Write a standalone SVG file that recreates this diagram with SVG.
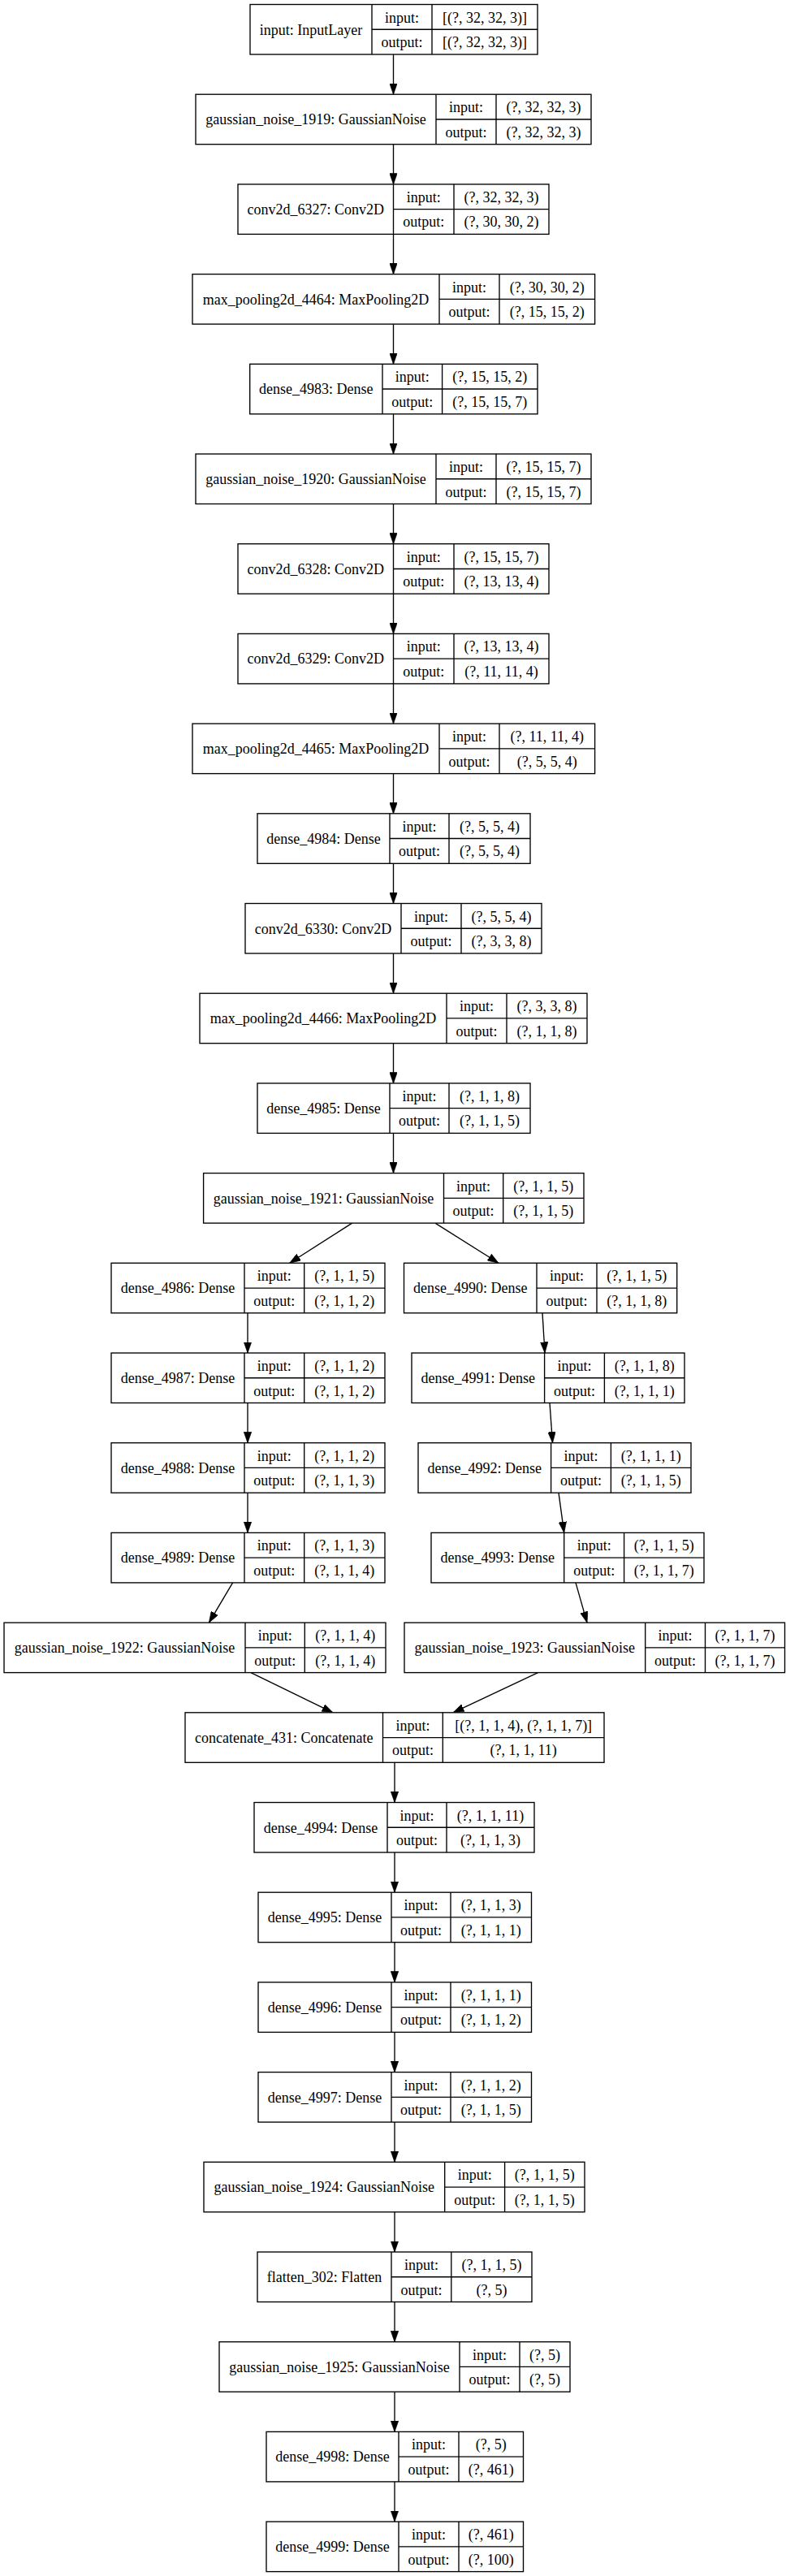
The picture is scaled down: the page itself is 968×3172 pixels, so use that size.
<svg xmlns="http://www.w3.org/2000/svg" width="968" height="3172" viewBox="0 0 968 3172">
<defs>
<style>
.n rect{fill:#fff;stroke:#000;stroke-width:1.35}
.n path{fill:none;stroke:#000;stroke-width:1.35}
text{font-family:"Liberation Serif","Times New Roman",serif;font-size:18px;fill:#000;text-anchor:middle}
#edges line{stroke:#000;stroke-width:1.35;marker-end:url(#arr)}
</style>
<marker id="arr" viewBox="0 0 10 7" refX="10" refY="3.5" markerWidth="13.5" markerHeight="9.5" markerUnits="userSpaceOnUse" orient="auto">
<path d="M0,0L10,3.5L0,7z" fill="#000" stroke="#000" stroke-width="0.5"/>
</marker>
</defs>
<rect width="968" height="3172" fill="#fff"/>
<g id="edges">
<line x1="484.5" y1="67" x2="484.5" y2="116.2"/>
<line x1="484.5" y1="177.7" x2="484.5" y2="226.9"/>
<line x1="484.5" y1="288.4" x2="484.5" y2="337.6"/>
<line x1="484.5" y1="399.1" x2="484.5" y2="448.3"/>
<line x1="484.5" y1="509.8" x2="484.5" y2="559"/>
<line x1="484.5" y1="620.5" x2="484.5" y2="669.7"/>
<line x1="484.5" y1="731.2" x2="484.5" y2="780.4"/>
<line x1="484.5" y1="841.9" x2="484.5" y2="891.1"/>
<line x1="484.5" y1="952.6" x2="484.5" y2="1001.8"/>
<line x1="484.5" y1="1063.3" x2="484.5" y2="1112.5"/>
<line x1="484.5" y1="1174" x2="484.5" y2="1223.2"/>
<line x1="484.5" y1="1284.7" x2="484.5" y2="1333.9"/>
<line x1="484.5" y1="1395.4" x2="484.5" y2="1444.6"/>
<line x1="433.6" y1="1506.1" x2="356.7" y2="1555.3"/>
<line x1="536" y1="1506.1" x2="614" y2="1555.3"/>
<line x1="305" y1="1616.8" x2="305" y2="1666"/>
<line x1="305" y1="1727.5" x2="305" y2="1776.7"/>
<line x1="305" y1="1838.2" x2="305" y2="1887.4"/>
<line x1="286.6" y1="1948.9" x2="257.4" y2="1998.1"/>
<line x1="668" y1="1616.8" x2="671" y2="1666"/>
<line x1="677" y1="1727.5" x2="680.5" y2="1776.7"/>
<line x1="688" y1="1838.2" x2="694.7" y2="1887.4"/>
<line x1="709" y1="1948.9" x2="723" y2="1998.1"/>
<line x1="309" y1="2059.6" x2="410" y2="2108.8"/>
<line x1="662.5" y1="2059.6" x2="558" y2="2108.8"/>
<line x1="486" y1="2170.3" x2="486" y2="2219.5"/>
<line x1="486" y1="2281" x2="486" y2="2330.2"/>
<line x1="486" y1="2391.7" x2="486" y2="2440.9"/>
<line x1="486" y1="2502.4" x2="486" y2="2551.6"/>
<line x1="486" y1="2613.1" x2="486" y2="2662.3"/>
<line x1="486" y1="2723.8" x2="486" y2="2773"/>
<line x1="486" y1="2834.5" x2="486" y2="2883.7"/>
<line x1="486" y1="2945.2" x2="486" y2="2994.4"/>
<line x1="486" y1="3055.9" x2="486" y2="3105.1"/>
</g>

<g id="input" class="n" transform="translate(0,5.5)">
<rect x="308" y="0" width="354" height="61.5"/><path d="M458,0V61.5M532,0V61.5M458,30.75H662"/>
<text x="383" y="37">input: InputLayer</text><text x="495" y="22">input:</text><text x="495" y="52.6">output:</text>
<text x="597" y="22">[(?, 32, 32, 3)]</text><text x="597" y="52.6">[(?, 32, 32, 3)]</text>
</g>
<g id="gaussian_noise_1919" class="n" transform="translate(0,116.2)">
<rect x="241" y="0" width="487" height="61.5"/><path d="M537,0V61.5M611,0V61.5M537,30.75H728"/>
<text x="389" y="37">gaussian_noise_1919: GaussianNoise</text><text x="574" y="22">input:</text><text x="574" y="52.6">output:</text>
<text x="669.5" y="22">(?, 32, 32, 3)</text><text x="669.5" y="52.6">(?, 32, 32, 3)</text>
</g>
<g id="conv2d_6327" class="n" transform="translate(0,226.9)">
<rect x="293" y="0" width="383" height="61.5"/><path d="M484.5,0V61.5M559,0V61.5M484.5,30.75H676"/>
<text x="388.75" y="37">conv2d_6327: Conv2D</text><text x="521.75" y="22">input:</text><text x="521.75" y="52.6">output:</text>
<text x="617.5" y="22">(?, 32, 32, 3)</text><text x="617.5" y="52.6">(?, 30, 30, 2)</text>
</g>
<g id="max_pooling2d_4464" class="n" transform="translate(0,337.6)">
<rect x="237" y="0" width="495.6" height="61.5"/><path d="M541,0V61.5M615,0V61.5M541,30.75H732.6"/>
<text x="389" y="37">max_pooling2d_4464: MaxPooling2D</text><text x="578" y="22">input:</text><text x="578" y="52.6">output:</text>
<text x="673.8" y="22">(?, 30, 30, 2)</text><text x="673.8" y="52.6">(?, 15, 15, 2)</text>
</g>
<g id="dense_4983" class="n" transform="translate(0,448.3)">
<rect x="307.7" y="0" width="354.3" height="61.5"/><path d="M471,0V61.5M544.6,0V61.5M471,30.75H662"/>
<text x="389.35" y="37">dense_4983: Dense</text><text x="507.8" y="22">input:</text><text x="507.8" y="52.6">output:</text>
<text x="603.3" y="22">(?, 15, 15, 2)</text><text x="603.3" y="52.6">(?, 15, 15, 7)</text>
</g>
<g id="gaussian_noise_1920" class="n" transform="translate(0,559)">
<rect x="241" y="0" width="487" height="61.5"/><path d="M537,0V61.5M611,0V61.5M537,30.75H728"/>
<text x="389" y="37">gaussian_noise_1920: GaussianNoise</text><text x="574" y="22">input:</text><text x="574" y="52.6">output:</text>
<text x="669.5" y="22">(?, 15, 15, 7)</text><text x="669.5" y="52.6">(?, 15, 15, 7)</text>
</g>
<g id="conv2d_6328" class="n" transform="translate(0,669.7)">
<rect x="293" y="0" width="383" height="61.5"/><path d="M484.5,0V61.5M559,0V61.5M484.5,30.75H676"/>
<text x="388.75" y="37">conv2d_6328: Conv2D</text><text x="521.75" y="22">input:</text><text x="521.75" y="52.6">output:</text>
<text x="617.5" y="22">(?, 15, 15, 7)</text><text x="617.5" y="52.6">(?, 13, 13, 4)</text>
</g>
<g id="conv2d_6329" class="n" transform="translate(0,780.4)">
<rect x="293" y="0" width="383" height="61.5"/><path d="M484.5,0V61.5M559,0V61.5M484.5,30.75H676"/>
<text x="388.75" y="37">conv2d_6329: Conv2D</text><text x="521.75" y="22">input:</text><text x="521.75" y="52.6">output:</text>
<text x="617.5" y="22">(?, 13, 13, 4)</text><text x="617.5" y="52.6">(?, 11, 11, 4)</text>
</g>
<g id="max_pooling2d_4465" class="n" transform="translate(0,891.1)">
<rect x="237" y="0" width="495.6" height="61.5"/><path d="M541,0V61.5M615,0V61.5M541,30.75H732.6"/>
<text x="389" y="37">max_pooling2d_4465: MaxPooling2D</text><text x="578" y="22">input:</text><text x="578" y="52.6">output:</text>
<text x="673.8" y="22">(?, 11, 11, 4)</text><text x="673.8" y="52.6">(?, 5, 5, 4)</text>
</g>
<g id="dense_4984" class="n" transform="translate(0,1001.8)">
<rect x="317" y="0" width="336" height="61.5"/><path d="M480,0V61.5M553,0V61.5M480,30.75H653"/>
<text x="398.5" y="37">dense_4984: Dense</text><text x="516.5" y="22">input:</text><text x="516.5" y="52.6">output:</text>
<text x="603" y="22">(?, 5, 5, 4)</text><text x="603" y="52.6">(?, 5, 5, 4)</text>
</g>
<g id="conv2d_6330" class="n" transform="translate(0,1112.5)">
<rect x="302" y="0" width="365" height="61.5"/><path d="M494,0V61.5M568,0V61.5M494,30.75H667"/>
<text x="398" y="37">conv2d_6330: Conv2D</text><text x="531" y="22">input:</text><text x="531" y="52.6">output:</text>
<text x="617.5" y="22">(?, 5, 5, 4)</text><text x="617.5" y="52.6">(?, 3, 3, 8)</text>
</g>
<g id="max_pooling2d_4466" class="n" transform="translate(0,1223.2)">
<rect x="246" y="0" width="477" height="61.5"/><path d="M550,0V61.5M624,0V61.5M550,30.75H723"/>
<text x="398" y="37">max_pooling2d_4466: MaxPooling2D</text><text x="587" y="22">input:</text><text x="587" y="52.6">output:</text>
<text x="673.5" y="22">(?, 3, 3, 8)</text><text x="673.5" y="52.6">(?, 1, 1, 8)</text>
</g>
<g id="dense_4985" class="n" transform="translate(0,1333.9)">
<rect x="317" y="0" width="336" height="61.5"/><path d="M480,0V61.5M553,0V61.5M480,30.75H653"/>
<text x="398.5" y="37">dense_4985: Dense</text><text x="516.5" y="22">input:</text><text x="516.5" y="52.6">output:</text>
<text x="603" y="22">(?, 1, 1, 8)</text><text x="603" y="52.6">(?, 1, 1, 5)</text>
</g>
<g id="gaussian_noise_1921" class="n" transform="translate(0,1444.6)">
<rect x="250.6" y="0" width="468.4" height="61.5"/><path d="M546.5,0V61.5M619.7,0V61.5M546.5,30.75H719"/>
<text x="398.55" y="37">gaussian_noise_1921: GaussianNoise</text><text x="583.1" y="22">input:</text><text x="583.1" y="52.6">output:</text>
<text x="669.35" y="22">(?, 1, 1, 5)</text><text x="669.35" y="52.6">(?, 1, 1, 5)</text>
</g>
<g id="dense_4986" class="n" transform="translate(0,1555.3)">
<rect x="137" y="0" width="337" height="61.5"/><path d="M301,0V61.5M374.7,0V61.5M301,30.75H474"/>
<text x="219" y="37">dense_4986: Dense</text><text x="337.85" y="22">input:</text><text x="337.85" y="52.6">output:</text>
<text x="424.35" y="22">(?, 1, 1, 5)</text><text x="424.35" y="52.6">(?, 1, 1, 2)</text>
</g>
<g id="dense_4990" class="n" transform="translate(0,1555.3)">
<rect x="497.5" y="0" width="336.2" height="61.5"/><path d="M661,0V61.5M735,0V61.5M661,30.75H833.7"/>
<text x="579.25" y="37">dense_4990: Dense</text><text x="698" y="22">input:</text><text x="698" y="52.6">output:</text>
<text x="784.35" y="22">(?, 1, 1, 5)</text><text x="784.35" y="52.6">(?, 1, 1, 8)</text>
</g>
<g id="dense_4987" class="n" transform="translate(0,1666)">
<rect x="137" y="0" width="337" height="61.5"/><path d="M301,0V61.5M374.7,0V61.5M301,30.75H474"/>
<text x="219" y="37">dense_4987: Dense</text><text x="337.85" y="22">input:</text><text x="337.85" y="52.6">output:</text>
<text x="424.35" y="22">(?, 1, 1, 2)</text><text x="424.35" y="52.6">(?, 1, 1, 2)</text>
</g>
<g id="dense_4991" class="n" transform="translate(0,1666)">
<rect x="507" y="0" width="336" height="61.5"/><path d="M670.6,0V61.5M744.4,0V61.5M670.6,30.75H843"/>
<text x="588.8" y="37">dense_4991: Dense</text><text x="707.5" y="22">input:</text><text x="707.5" y="52.6">output:</text>
<text x="793.7" y="22">(?, 1, 1, 8)</text><text x="793.7" y="52.6">(?, 1, 1, 1)</text>
</g>
<g id="dense_4988" class="n" transform="translate(0,1776.7)">
<rect x="137" y="0" width="337" height="61.5"/><path d="M301,0V61.5M374.7,0V61.5M301,30.75H474"/>
<text x="219" y="37">dense_4988: Dense</text><text x="337.85" y="22">input:</text><text x="337.85" y="52.6">output:</text>
<text x="424.35" y="22">(?, 1, 1, 2)</text><text x="424.35" y="52.6">(?, 1, 1, 3)</text>
</g>
<g id="dense_4992" class="n" transform="translate(0,1776.7)">
<rect x="515" y="0" width="336" height="61.5"/><path d="M678.6,0V61.5M752.4,0V61.5M678.6,30.75H851"/>
<text x="596.8" y="37">dense_4992: Dense</text><text x="715.5" y="22">input:</text><text x="715.5" y="52.6">output:</text>
<text x="801.7" y="22">(?, 1, 1, 1)</text><text x="801.7" y="52.6">(?, 1, 1, 5)</text>
</g>
<g id="dense_4989" class="n" transform="translate(0,1887.4)">
<rect x="137" y="0" width="337" height="61.5"/><path d="M301,0V61.5M374.7,0V61.5M301,30.75H474"/>
<text x="219" y="37">dense_4989: Dense</text><text x="337.85" y="22">input:</text><text x="337.85" y="52.6">output:</text>
<text x="424.35" y="22">(?, 1, 1, 3)</text><text x="424.35" y="52.6">(?, 1, 1, 4)</text>
</g>
<g id="dense_4993" class="n" transform="translate(0,1887.4)">
<rect x="531" y="0" width="336" height="61.5"/><path d="M694.7,0V61.5M768.6,0V61.5M694.7,30.75H867"/>
<text x="612.85" y="37">dense_4993: Dense</text><text x="731.65" y="22">input:</text><text x="731.65" y="52.6">output:</text>
<text x="817.8" y="22">(?, 1, 1, 5)</text><text x="817.8" y="52.6">(?, 1, 1, 7)</text>
</g>
<g id="gaussian_noise_1922" class="n" transform="translate(0,1998.1)">
<rect x="5" y="0" width="470" height="61.5"/><path d="M302,0V61.5M375.3,0V61.5M302,30.75H475"/>
<text x="153.5" y="37">gaussian_noise_1922: GaussianNoise</text><text x="338.65" y="22">input:</text><text x="338.65" y="52.6">output:</text>
<text x="425.15" y="22">(?, 1, 1, 4)</text><text x="425.15" y="52.6">(?, 1, 1, 4)</text>
</g>
<g id="gaussian_noise_1923" class="n" transform="translate(0,1998.1)">
<rect x="498" y="0" width="468.5" height="61.5"/><path d="M794.7,0V61.5M868.5,0V61.5M794.7,30.75H966.5"/>
<text x="646.35" y="37">gaussian_noise_1923: GaussianNoise</text><text x="831.6" y="22">input:</text><text x="831.6" y="52.6">output:</text>
<text x="917.5" y="22">(?, 1, 1, 7)</text><text x="917.5" y="52.6">(?, 1, 1, 7)</text>
</g>
<g id="concatenate_431" class="n" transform="translate(0,2108.8)">
<rect x="228" y="0" width="516" height="61.5"/><path d="M471.5,0V61.5M545.3,0V61.5M471.5,30.75H744"/>
<text x="349.75" y="37">concatenate_431: Concatenate</text><text x="508.4" y="22">input:</text><text x="508.4" y="52.6">output:</text>
<text x="644.65" y="22">[(?, 1, 1, 4), (?, 1, 1, 7)]</text><text x="644.65" y="52.6">(?, 1, 1, 11)</text>
</g>
<g id="dense_4994" class="n" transform="translate(0,2219.5)">
<rect x="313" y="0" width="345" height="61.5"/><path d="M477,0V61.5M550,0V61.5M477,30.75H658"/>
<text x="395" y="37">dense_4994: Dense</text><text x="513.5" y="22">input:</text><text x="513.5" y="52.6">output:</text>
<text x="604" y="22">(?, 1, 1, 11)</text><text x="604" y="52.6">(?, 1, 1, 3)</text>
</g>
<g id="dense_4995" class="n" transform="translate(0,2330.2)">
<rect x="318" y="0" width="336.5" height="61.5"/><path d="M482,0V61.5M555,0V61.5M482,30.75H654.5"/>
<text x="400" y="37">dense_4995: Dense</text><text x="518.5" y="22">input:</text><text x="518.5" y="52.6">output:</text>
<text x="604.75" y="22">(?, 1, 1, 3)</text><text x="604.75" y="52.6">(?, 1, 1, 1)</text>
</g>
<g id="dense_4996" class="n" transform="translate(0,2440.9)">
<rect x="318" y="0" width="336.5" height="61.5"/><path d="M482,0V61.5M555,0V61.5M482,30.75H654.5"/>
<text x="400" y="37">dense_4996: Dense</text><text x="518.5" y="22">input:</text><text x="518.5" y="52.6">output:</text>
<text x="604.75" y="22">(?, 1, 1, 1)</text><text x="604.75" y="52.6">(?, 1, 1, 2)</text>
</g>
<g id="dense_4997" class="n" transform="translate(0,2551.6)">
<rect x="318" y="0" width="336.5" height="61.5"/><path d="M482,0V61.5M555,0V61.5M482,30.75H654.5"/>
<text x="400" y="37">dense_4997: Dense</text><text x="518.5" y="22">input:</text><text x="518.5" y="52.6">output:</text>
<text x="604.75" y="22">(?, 1, 1, 2)</text><text x="604.75" y="52.6">(?, 1, 1, 5)</text>
</g>
<g id="gaussian_noise_1924" class="n" transform="translate(0,2662.3)">
<rect x="251" y="0" width="469" height="61.5"/><path d="M547.7,0V61.5M621.6,0V61.5M547.7,30.75H720"/>
<text x="399.35" y="37">gaussian_noise_1924: GaussianNoise</text><text x="584.65" y="22">input:</text><text x="584.65" y="52.6">output:</text>
<text x="670.8" y="22">(?, 1, 1, 5)</text><text x="670.8" y="52.6">(?, 1, 1, 5)</text>
</g>
<g id="flatten_302" class="n" transform="translate(0,2773)">
<rect x="317" y="0" width="338" height="61.5"/><path d="M482,0V61.5M555.8,0V61.5M482,30.75H655"/>
<text x="399.5" y="37">flatten_302: Flatten</text><text x="518.9" y="22">input:</text><text x="518.9" y="52.6">output:</text>
<text x="605.4" y="22">(?, 1, 1, 5)</text><text x="605.4" y="52.6">(?, 5)</text>
</g>
<g id="gaussian_noise_1925" class="n" transform="translate(0,2883.7)">
<rect x="270" y="0" width="432" height="61.5"/><path d="M566,0V61.5M640,0V61.5M566,30.75H702"/>
<text x="418" y="37">gaussian_noise_1925: GaussianNoise</text><text x="603" y="22">input:</text><text x="603" y="52.6">output:</text>
<text x="671" y="22">(?, 5)</text><text x="671" y="52.6">(?, 5)</text>
</g>
<g id="dense_4998" class="n" transform="translate(0,2994.4)">
<rect x="328" y="0" width="316.5" height="61.5"/><path d="M491,0V61.5M565,0V61.5M491,30.75H644.5"/>
<text x="409.5" y="37">dense_4998: Dense</text><text x="528" y="22">input:</text><text x="528" y="52.6">output:</text>
<text x="604.75" y="22">(?, 5)</text><text x="604.75" y="52.6">(?, 461)</text>
</g>
<g id="dense_4999" class="n" transform="translate(0,3105.1)">
<rect x="328" y="0" width="316.5" height="61.5"/><path d="M491,0V61.5M565,0V61.5M491,30.75H644.5"/>
<text x="409.5" y="37">dense_4999: Dense</text><text x="528" y="22">input:</text><text x="528" y="52.6">output:</text>
<text x="604.75" y="22">(?, 461)</text><text x="604.75" y="52.6">(?, 100)</text>
</g>
</svg>
